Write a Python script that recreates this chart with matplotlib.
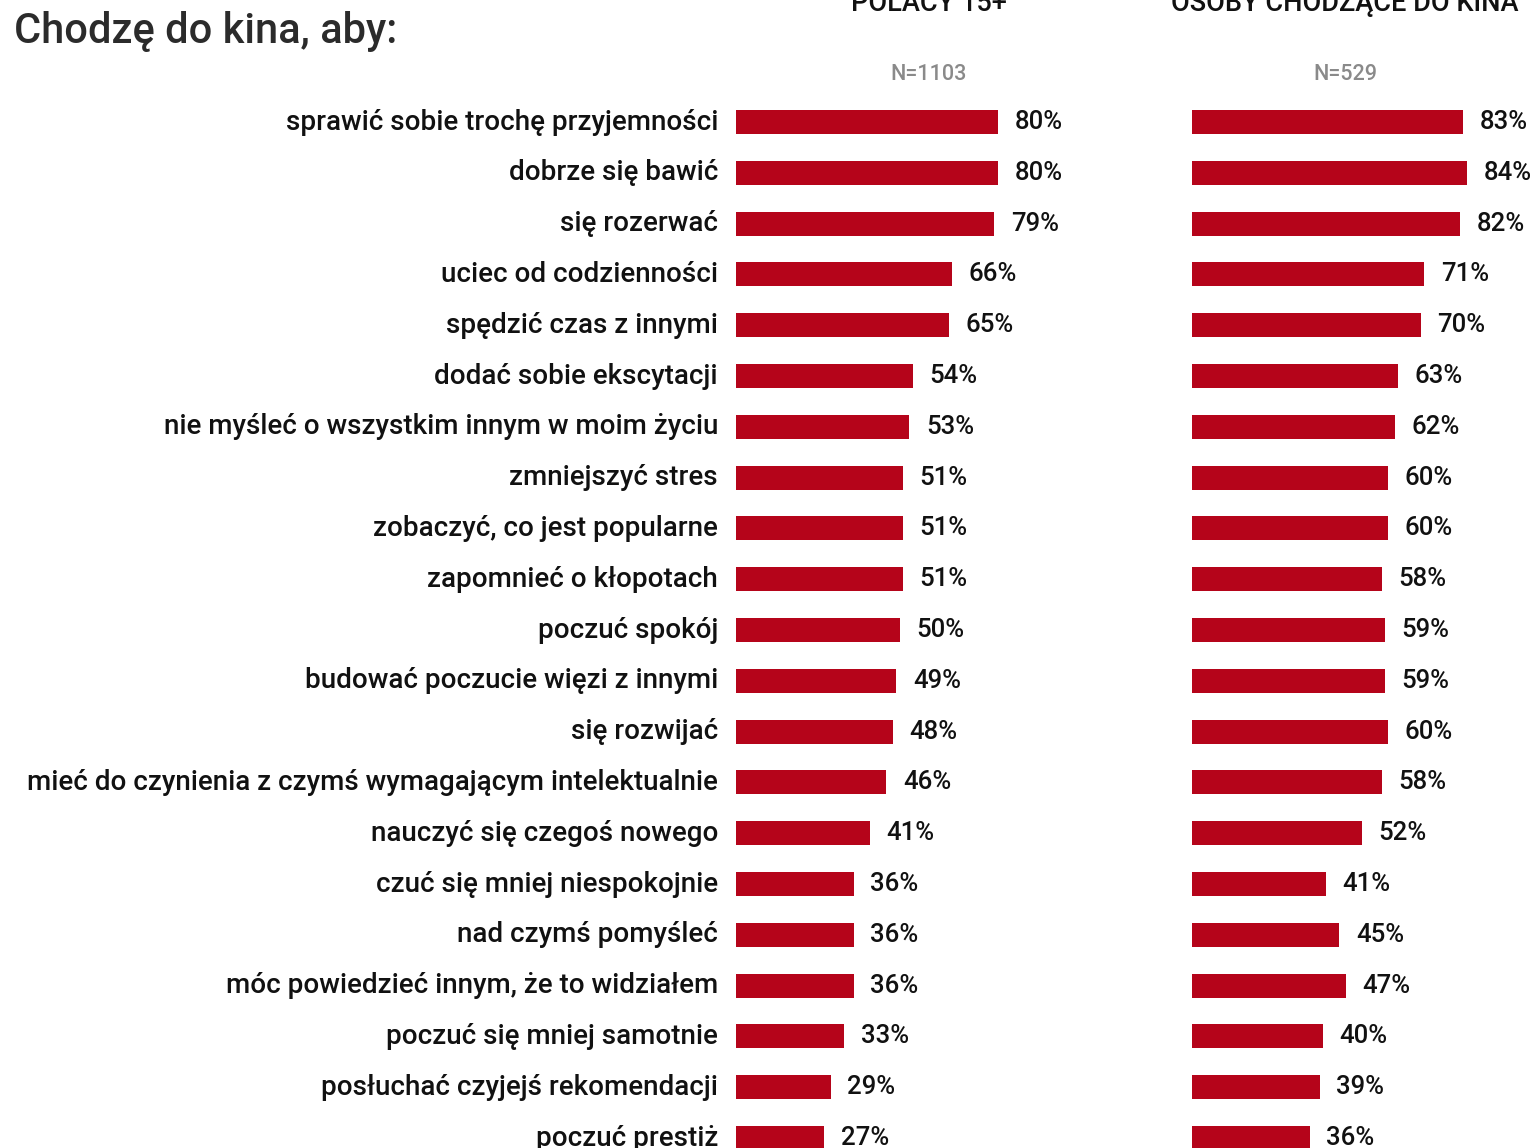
import matplotlib
matplotlib.use("Agg")
import matplotlib.pyplot as plt

# data
categories = [
    "sprawić sobie trochę przyjemności",
    "dobrze się bawić",
    "się rozerwać",
    "uciec od codzienności",
    "spędzić czas z innymi",
    "dodać sobie ekscytacji",
    "nie myśleć o wszystkim innym w moim życiu",
    "zmniejszyć stres",
    "zobaczyć, co jest popularne",
    "zapomnieć o kłopotach",
    "poczuć spokój",
    "budować poczucie więzi z innymi",
    "się rozwijać",
    "mieć do czynienia z czymś wymagającym intelektualnie",
    "nauczyć się czegoś nowego",
    "czuć się mniej niespokojnie",
    "nad czymś pomyśleć",
    "móc powiedzieć innym, że to widziałem",
    "poczuć się mniej samotnie",
    "posłuchać czyjejś rekomendacji",
    "poczuć prestiż",
]
polacy = [80, 80, 79, 66, 65, 54, 53, 51, 51, 51, 50, 49, 48, 46, 41, 36, 36, 36, 33, 29, 27]
kinomani = [83, 84, 82, 71, 70, 63, 62, 60, 60, 58, 59, 59, 60, 58, 52, 41, 45, 47, 40, 39, 36]
headers = ["POLACY 15+", "OSOBY CHODZĄCE DO KINA"]
n_labels = ["N=1103", "N=529"]

RED = "#B5041A"
W, H = 1534, 1148
fig = plt.figure(figsize=(W / 100, H / 100), dpi=100)

# pixel -> row units
row0, step = 122, 50.8
ytop = (0 - row0) / step
ybot = (H - row0) / step

font = "Roboto"

axes = []
panels = [(736, polacy, headers[0], n_labels[0], 59),
          (1192, kinomani, headers[1], n_labels[1], 46.8)]
for left_px, vals, head, nlab, xc in panels:
    ax = fig.add_axes([left_px / W, 0, 327 / W, 1])
    ys = list(range(len(vals)))
    ax.barh(ys, vals, height=0.47, color=RED)
    for y, v in zip(ys, vals):
        ax.annotate(f"{v}%", (v, y), xytext=(12, 0), textcoords="offset points",
                    va="center", ha="left", fontsize=18.5, family=font,
                    fontweight="medium", color="#111111")
    ax.set_xlim(0, 100)
    ax.set_ylim(ybot, ytop)
    ax.axis("off")
    ax.text(xc, (74 - row0) / step, nlab, ha="center", va="center",
            fontsize=15.5, color="#8a8a8a", family=font, fontweight="medium")
    ax.text(xc, (11 - row0) / step, head,
            ha="center", va="baseline", fontsize=19.5, color="#111111",
            family=font, fontweight="medium", clip_on=False)
    axes.append(ax)

ax1 = axes[0]
for y, c in enumerate(categories):
    ax1.annotate(c, (0, y), xytext=(-13, 0), textcoords="offset points",
                 va="center", ha="right", fontsize=20, family=font,
                 fontweight="medium", color="#111111")

fig.text(14 / W, 1 - 31 / H, "Chodzę do kina, aby:", ha="left", va="center",
         fontsize=30, family=font, fontweight="medium", color="#2b2b2b")

fig.savefig("out.png", dpi=100)
